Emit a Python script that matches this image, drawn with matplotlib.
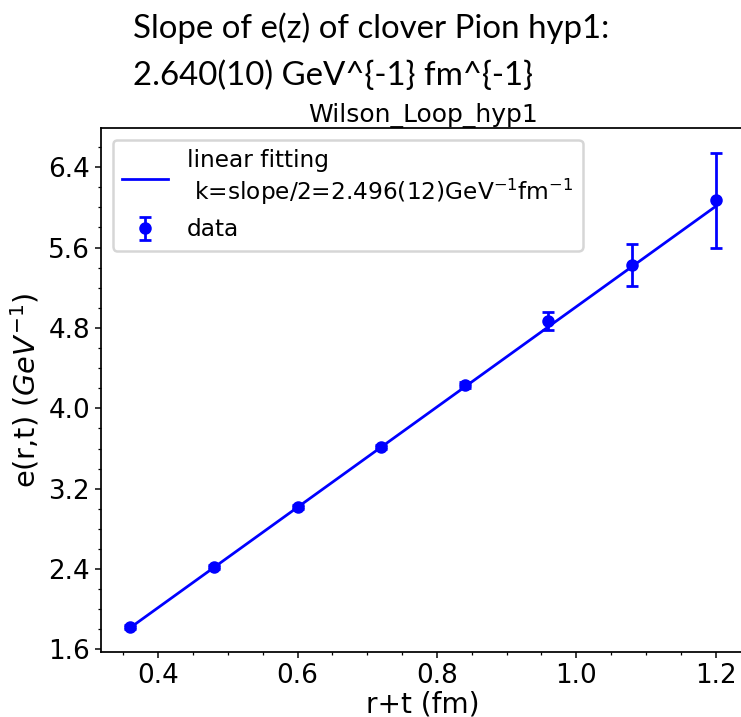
import matplotlib
matplotlib.use("Agg")
import matplotlib.pyplot as plt
import numpy as np

# separation r+t in fm and the measured e(r,t) in GeV^-1
r_plus_t = [0.36, 0.48, 0.60, 0.72, 0.84, 0.96, 1.08, 1.20]
e_vals = [1.82, 2.42, 3.02, 3.62, 4.23, 4.87, 5.43, 6.07]
e_errs = [0.02, 0.02, 0.02, 0.02, 0.03, 0.09, 0.21, 0.47]

# linear fit result: e = slope * (r+t) + intercept
fit_slope = 4.992
fit_intercept = 0.02

y_ticks = [1.6, 2.4, 3.2, 4.0, 4.8, 5.6, 6.4]
x_ticks = [0.4, 0.6, 0.8, 1.0, 1.2]

DPI = 180
fig = plt.figure(figsize=(742 / DPI, 717 / DPI), dpi=DPI)
ax = fig.add_axes([101 / 742, 65 / 717, 644 / 742, 524 / 717])

x_fit = np.array([r_plus_t[0], r_plus_t[-1]])
ax.plot(x_fit, fit_slope * x_fit + fit_intercept, color="blue", lw=1.1,
        label="linear fitting\n k=slope/2=2.496(12)GeV$^{-1}$fm$^{-1}$")
ax.errorbar(r_plus_t, e_vals, yerr=e_errs, fmt="o", color="blue",
            markersize=4, capsize=2.5, elinewidth=1.1, capthick=1.1,
            label="data")

ax.set_yticks(y_ticks)
ax.set_xticks(x_ticks)
ax.minorticks_on()
ax.set_xlim(0.318, 1.242)
ax.set_ylim(1.575, 6.79)
ax.tick_params(which="major", length=2.2, width=0.6, pad=2.2, labelsize=10.5)
ax.tick_params(which="minor", length=1.4, width=0.5)
for sp in ax.spines.values():
    sp.set_linewidth(0.7)

ax.set_title("Wilson_Loop_hyp1", fontsize=10, pad=2.5)
ax.set_xlabel("r+t (fm)", fontsize=11.2, labelpad=0.5)
ax.set_ylabel("e(r,t) $(GeV^{-1})$", fontsize=11.5, labelpad=2.5)
ax.legend(loc="upper left", fontsize=9.3)

fig.text(133 / 742, 1 - 38 / 717, "Slope of e(z) of clover Pion hyp1:",
         fontsize=13.2, family="Lato", va="baseline", ha="left")
fig.text(133 / 742, 1 - 85 / 717, "2.640(10) GeV^{-1} fm^{-1}",
         fontsize=13.2, family="Lato", va="baseline", ha="left")

fig.savefig("out.png", dpi=DPI)
